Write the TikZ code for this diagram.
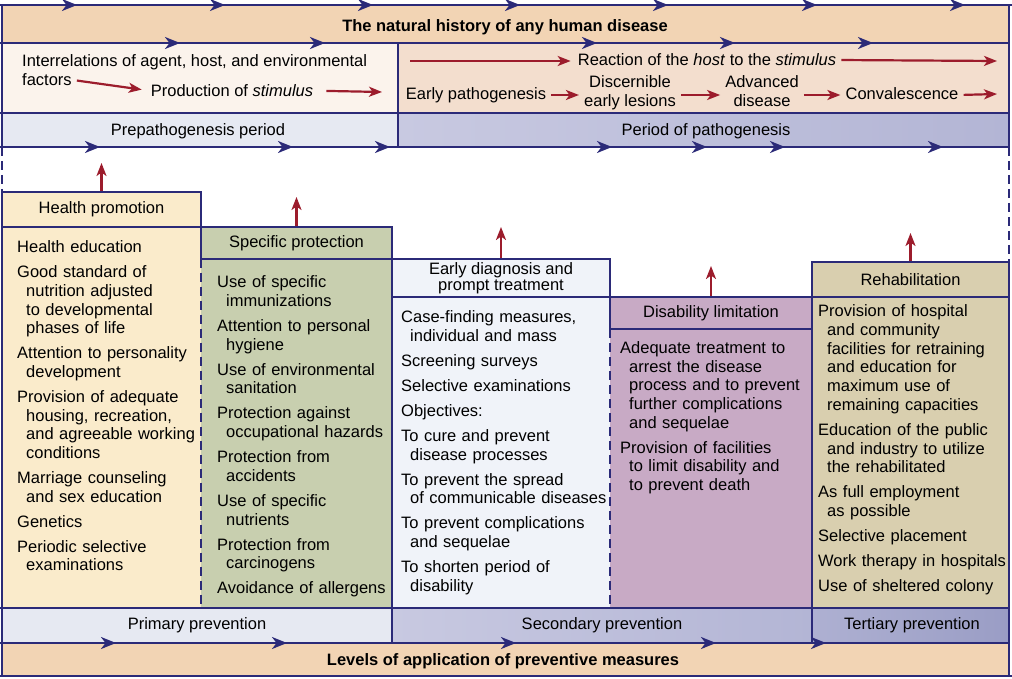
\documentclass[tikz,border=0pt]{standalone}
\usepackage{fontspec}
\setmainfont{Liberation Sans}
\usetikzlibrary{arrows.meta,decorations.markings}

\definecolor{navy}{HTML}{2B2A78}
\definecolor{rust}{HTML}{9C1C2C}
\definecolor{peach}{HTML}{F2D4B4}
\definecolor{shell}{HTML}{FBF3EC}
\definecolor{blush}{HTML}{F3DECE}
\definecolor{mist}{HTML}{E6E9F2}
\definecolor{lilaclite}{HTML}{C8C9E1}
\definecolor{lilac}{HTML}{B3B5D5}
\definecolor{lilacdark}{HTML}{9A9DC5}
\definecolor{cream}{HTML}{FAEBCB}
\definecolor{sage}{HTML}{C8CFAF}
\definecolor{frost}{HTML}{F0F3F9}
\definecolor{mauve}{HTML}{C8AAC5}
\definecolor{khaki}{HTML}{D9CFAF}

\newcommand{\itm}[1]{\noindent\hangindent=9pt\hangafter=1\strut#1\par\vspace{6.3pt}}

\begin{document}
\begin{tikzpicture}[x=1pt,y=-1pt,
    txt/.style={font=\fontsize{16.5}{18.7}\selectfont,inner sep=1pt},
    heavy/.style={font=\fontsize{16.5}{18.7}\selectfont\bfseries},
    hdr/.style={txt,draw=navy,line width=2pt,inner sep=0pt,align=center},
    list/.style={txt,anchor=north west,inner sep=0pt,text width=215pt,align=left},
    rim/.style={draw=navy,line width=2.2pt},
    seam/.style={rim,dash pattern=on 9pt off 5pt},
    mk/.style={decoration={markings,mark=at position #1 with {\arrow{Stealth[length=15pt,width=12pt,inset=4.5pt]}}}},
    flow/.style={rim,fill=navy,postaction={decorate},mk/.list={#1}},
    push/.style={draw=rust,line width=2.2pt,-{Stealth[length=13pt,width=10pt,inset=3.5pt]},shorten <=4pt,shorten >=4pt},
    lift/.style={draw=rust,line width=2.2pt,-{Stealth[length=13pt,width=10pt,inset=3.5pt]}}]
  \useasboundingbox (0,0) rectangle (1012,679);

  % bands
  \fill[peach] (2,5) rectangle (1009,43);
  \fill[shell] (2,43) rectangle (398,113);
  \fill[blush] (398,43) rectangle (1009,113);
  \fill[mist] (2,113) rectangle (398,147);
  \shade[left color=lilaclite,right color=lilac] (398,113) rectangle (1009,147);
  \fill[mist] (2,608) rectangle (392,643);
  \shade[left color=lilaclite,right color=lilac] (392,608) rectangle (812,643);
  \shade[left color=lilac!80!lilacdark,right color=lilacdark] (812,608) rectangle (1009,643);
  \fill[peach] (2,643) rectangle (1009,676);

  % column bodies
  \fill[cream] (2,227) rectangle (201,608);
  \fill[sage] (201,258.5) rectangle (392,608);
  \fill[frost] (392,297) rectangle (610,608);
  \fill[mauve] (610,329) rectangle (812,608);
  \fill[khaki] (812,297) rectangle (1009,608);

  \draw[flow={77pt,225pt,373pt,520pt,668pt,817pt,965pt}] (0,5) -- (1012,5);
  \draw[flow={180pt,325pt,597pt,735pt,873pt}] (0,43) -- (1009,43);
  \draw[rim] (0,113) -- (1009,113);
  \draw[flow={100pt,293pt,390pt,612pt,707pt,785pt,943pt}] (0,147) -- (1009,147);
  \draw[rim] (398,43) -- (398,147);
  \draw[rim] (0,608) -- (1009,608);
  \draw[flow={116pt,287pt,516pt,716pt,826pt}] (0,643) -- (1009,643);
  \draw[rim] (0,676) -- (1012,676);
  \draw[rim] (2,5) -- (2,147);
  \draw[seam] (2,147) -- (2,192);
  \draw[rim] (2,192) -- (2,676);
  \draw[rim] (1009,5) -- (1009,147);
  \draw[seam] (1009,147) -- (1009,262);
  \draw[rim] (1009,262) -- (1009,676);
  \draw[seam] (201,258.5) -- (201,608);
  \draw[rim] (392,258.5) -- (392,643);
  \draw[seam] (610,329) -- (610,608);
  \draw[rim] (812,297) -- (812,643);

  \node[heavy] (nat) at (505,27) {The natural history of any human disease};
  \node[heavy] (lev) at (503,661) {Levels of application of preventive measures};

  \node[txt,anchor=west] (inter) at (21,62.5) {Interrelations of agent, host, and environmental};
  \node[txt,anchor=west] (fac) at (21,80) {factors};
  \node[txt] (stim) at (232,90.7) {Production of \textit{stimulus}};
  \coordinate (stimend) at (382,92);
  \draw[push,shorten >=8pt] (fac.east) -- (stim.west);
  \draw[push,shorten <=12pt,shorten >=0pt] (stim.east) -- (stimend);

  \coordinate (hostfrom) at (410,61);
  \node[txt] (host) at (707,60) {Reaction of the \textit{host} to the \textit{stimulus}};
  \coordinate (hostto) at (997,61);
  \draw[push,shorten <=0pt,shorten >=6pt] (hostfrom) -- (hostfrom -| host.west);
  \draw[push,shorten >=0pt] (host.east) -- (hostto);

  \node[txt] (ep) at (476,95) {Early pathogenesis};
  \node[txt,align=center] (del) at (630,92.8) {Discernible\\early lesions};
  \node[txt,align=center] (adv) at (762,91) {Advanced\\disease};
  \node[txt] (conv) at (902,93.3) {Convalescence};
  \coordinate (convto) at (997,94);
  \draw[push] (ep.east) -- (ep.east -| del.west);
  \draw[push] (del.east |- ep.east) -- (adv.west |- ep.east);
  \draw[push] (adv.east |- ep.east) -- (conv.west |- ep.east);
  \draw[push,shorten >=0pt] (conv.east |- ep.east) -- (convto);

  \node[txt] (pre) at (198,131) {Prepathogenesis period};
  \node[txt] (pat) at (706,131) {Period of pathogenesis};

  % column headers
  \node[hdr,fill=cream,minimum width=199,minimum height=35] (hp) at (101.5,209.5) {Health promotion};
  \node[hdr,fill=sage,minimum width=191,minimum height=31.5] (sp) at (296.5,242.75) {Specific protection};
  \node[hdr,fill=frost,minimum width=218,minimum height=38.5,font=\fontsize{16.5}{16}\selectfont] (ed) at (501,277.75) {Early diagnosis and\\prompt treatment};
  \node[hdr,fill=mauve,minimum width=202,minimum height=32] (dl) at (711,313) {Disability limitation};
  \node[hdr,fill=khaki,minimum width=197,minimum height=35] (rh) at (910.5,279.5) {Rehabilitation};

  \coordinate (hptip) at (101.5,163);
  \coordinate (sptip) at (296.5,197);
  \coordinate (edtip) at (501,227);
  \coordinate (dltip) at (711,266);
  \coordinate (rhtip) at (910.5,233);
  \draw[lift] (hp.north) -- (hptip);
  \draw[lift] (sp.north) -- (sptip);
  \draw[lift] (ed.north) -- (edtip);
  \draw[lift] (dl.north) -- (dltip);
  \draw[lift] (rh.north) -- (rhtip);

  \node[list] (hplist) at (17,239.4) {\itm{Health education}\itm{Good standard of\newline nutrition adjusted\newline to developmental\newline phases of life}\itm{Attention to personality\newline development}\itm{Provision of adequate\newline housing, recreation,\newline and agreeable working\newline conditions}\itm{Marriage counseling\newline and sex education}\itm{Genetics}\itm{Periodic selective\newline examinations}};
  \node[list] (splist) at (217,274.6) {\itm{Use of specific\newline immunizations}\itm{Attention to personal\newline hygiene}\itm{Use of environmental\newline sanitation}\itm{Protection against\newline occupational hazards}\itm{Protection from\newline accidents}\itm{Use of specific\newline nutrients}\itm{Protection from\newline carcinogens}\itm{Avoidance of allergens}};
  \node[list] (edlist) at (401,309.6) {\itm{Case-finding measures,\newline individual and mass}\itm{Screening surveys}\itm{Selective examinations}\itm{Objectives:}\itm{To cure and prevent\newline disease processes}\itm{To prevent the spread\newline of communicable diseases}\itm{To prevent complications\newline and sequelae}\itm{To shorten period of\newline disability}};
  \node[list] (dllist) at (620,340.2) {\itm{Adequate treatment to\newline arrest the disease\newline process and to prevent\newline further complications\newline and sequelae}\itm{Provision of facilities\newline to limit disability and\newline to prevent death}};
  \node[list] (rhlist) at (818,303.6) {\itm{Provision of hospital\newline and community\newline facilities for retraining\newline and education for\newline maximum use of\newline remaining capacities}\itm{Education of the public\newline and industry to utilize\newline the rehabilitated}\itm{As full employment\newline as possible}\itm{Selective placement}\itm{Work therapy in hospitals}\itm{Use of sheltered colony}};

  \node[txt] (prim) at (197,625) {Primary prevention};
  \node[txt] (sec) at (602,625) {Secondary prevention};
  \node[txt] (ter) at (912,625) {Tertiary prevention};
\end{tikzpicture}
\end{document}
